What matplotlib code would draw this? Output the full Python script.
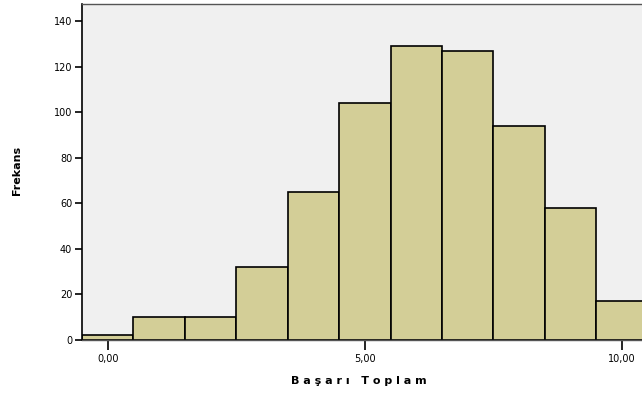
import matplotlib
matplotlib.use("Agg")
import matplotlib.pyplot as plt

# histogram bins (centres) and frequencies
bin_centers = [0, 1, 2, 3, 4, 5, 6, 7, 8, 9, 10]
frequencies = [2, 10, 10, 32, 65, 104, 129, 127, 94, 58, 17]
x_ticks = [0, 5, 10]
x_tick_labels = ["0,00", "5,00", "10,00"]
y_ticks = [0, 20, 40, 60, 80, 100, 120, 140]

fig = plt.figure(figsize=(6.42, 3.96), dpi=100)
ax = fig.add_axes([82 / 642, 1 - 340 / 396, 1 - 82 / 642, 336 / 396])
ax.set_facecolor("#f0f0f0")

ax.bar(bin_centers, frequencies, width=1.0, color="#d3ce97",
       edgecolor="black", linewidth=1.2)

ax.set_xlim(-0.5, 10.39)
ax.set_ylim(0, 147.5)
ax.set_xticks(x_ticks)
ax.set_xticklabels(x_tick_labels)
ax.set_yticks(y_ticks)
ax.tick_params(axis="x", length=7, width=1.2, labelsize=7, pad=3, color="black")
ax.tick_params(axis="y", length=5, width=1.2, labelsize=7, pad=2, color="black")

for s in ["left"]:
    ax.spines[s].set_color("black")
    ax.spines[s].set_linewidth(1.2)
ax.spines["bottom"].set_color("#555555")
ax.spines["bottom"].set_linewidth(1.0)
ax.spines["top"].set_color("#555555")
ax.spines["top"].set_linewidth(1.0)
ax.spines["right"].set_visible(False)

fig.text(0.5 * (82 / 642 + 1) - 0.005, 1 - 381 / 396, "B a ş a r ı   T o p l a m",
         ha="center", va="center", fontsize=8, fontweight="bold")
fig.text(17 / 642, 1 - 170 / 396, "Frekans", rotation=90, ha="center",
         va="center", fontsize=8, fontweight="bold")

fig.savefig("out.png", dpi=100)
